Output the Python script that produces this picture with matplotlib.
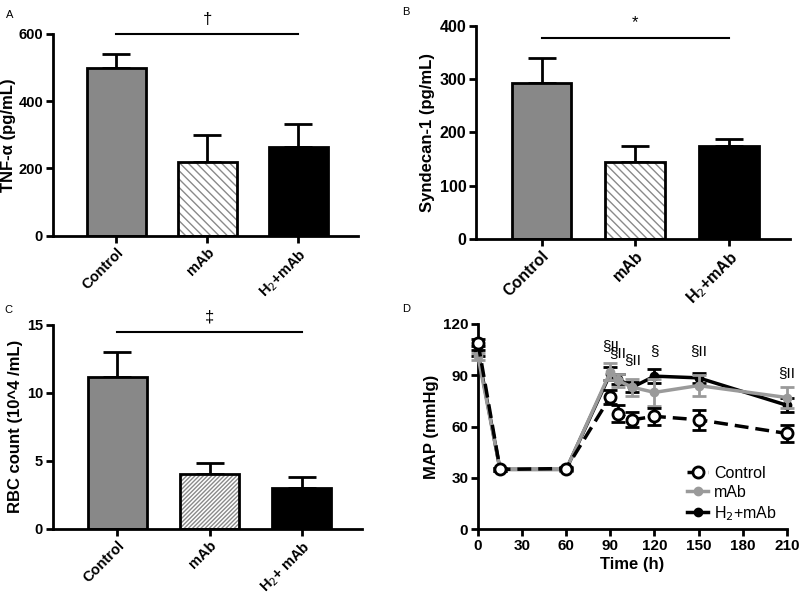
import matplotlib.pyplot as plt

plt.rcParams['font.family'] = ['Liberation Sans', 'DejaVu Sans']

# =========================================
# DATA
# =========================================
groups = ["Control", "mAb", "H$_2$+mAb"]
groups_c = ["Control", "mAb", "H$_2$+ mAb"]

tnf_mean = [500, 220, 265]
tnf_err = [40, 80, 68]

synd_mean = [293, 145, 174]
synd_err = [47, 29, 13]

rbc_mean = [11.2, 4.0, 3.0]
rbc_err = [1.8, 0.85, 0.8]

time_h = [0, 15, 60, 90, 95, 105, 120, 150, 210]
map_control = [109, 35, 35.5, 77.5, 67.5, 64, 66, 64, 56]
map_control_err = [2, 1, 1, 4, 5, 4.5, 5, 6, 5]
map_mab = [101, 35, 35, 92, 87, 83, 80, 84, 77]
map_mab_err = [2, 1, 1, 5, 4, 5, 8, 6, 6]
map_h2 = [103, 35, 35, 91, 88, 83, 89.5, 88.5, 72.5]
map_h2_err = [2, 1, 1, 4, 3, 3, 4, 3, 4]

sig_times = [90, 95, 105, 120, 150, 210]
sig_y = [103, 99, 95, 100, 100, 87]
sig_marks = ["§II", "§II", "§II", "§", "§II", "§II"]

GREY = "#888888"
LGREY = "#9a9a9a"
LW = 2.0


# =========================================
# HELPERS
# =========================================
def style_axes(ax, size=10.5):
    for s in ["top", "right"]:
        ax.spines[s].set_visible(False)
    for s in ["left", "bottom"]:
        ax.spines[s].set_linewidth(LW)
    ax.tick_params(width=LW, length=5, labelsize=size, direction="out", pad=2)
    for lab in ax.get_yticklabels() + ax.get_xticklabels():
        lab.set_fontweight("bold")


def bar_panel(ax, means, errs, labels, hatch, ylim, yticks, ylabel,
              sig_level, sig_text, size=10.5, lsize=12):
    x = list(range(len(means)))
    w = 0.64
    ax.bar(x[0], means[0], w, color=GREY, edgecolor="black", linewidth=LW, zorder=2)
    ax.bar(x[1], means[1], w, color="white", edgecolor="#8a8a8a", hatch=hatch,
           linewidth=0, zorder=2)
    ax.bar(x[1], means[1], w, color="none", edgecolor="black", linewidth=LW, zorder=3)
    ax.bar(x[2], means[2], w, color="black", edgecolor="black", linewidth=LW, zorder=2)
    ax.errorbar(x, means, yerr=[[0] * len(errs), errs], fmt="none",
                ecolor="black", elinewidth=LW, capsize=10, capthick=LW, zorder=1)
    ax.set_xlim(-0.7, 2.65)
    ax.set_ylim(*ylim)
    ax.set_yticks(yticks)
    ax.set_xticks(x)
    ax.set_xticklabels(labels, rotation=45, ha="right", rotation_mode="anchor")
    ax.set_ylabel(ylabel, fontsize=lsize, fontweight="bold", labelpad=3)
    ax.plot([x[0], x[2]], [sig_level, sig_level], color="black", lw=1.5,
            clip_on=False)
    ax.text(1, sig_level + (ylim[1] - ylim[0]) * 0.035, sig_text, ha="center",
            va="bottom", fontsize=12, clip_on=False)
    style_axes(ax, size)


# =========================================
# FIGURE
# =========================================
fig = plt.figure(figsize=(8, 5.94), dpi=100)

ax_a = fig.add_axes([0.066, 0.603, 0.381, 0.340])
ax_b = fig.add_axes([0.595, 0.598, 0.392, 0.358])
ax_c = fig.add_axes([0.066, 0.110, 0.386, 0.343])
ax_d = fig.add_axes([0.5975, 0.109, 0.386, 0.3456])

bar_panel(ax_a, tnf_mean, tnf_err, groups, "\\\\\\\\", (0, 600),
          [0, 200, 400, 600], "TNF-α (pg/mL)", 600, "†", 10.5, 12)
ax_a.yaxis.set_label_coords(-0.12, 0.5)
bar_panel(ax_b, synd_mean, synd_err, groups, "\\\\\\\\", (0, 400),
          [0, 100, 200, 300, 400], "Syndecan-1 (pg/mL)", 378, "*", 11.5, 12)
bar_panel(ax_c, rbc_mean, rbc_err, groups_c, "////////", (0, 15),
          [0, 5, 10, 15], "RBC count (10^4 /mL)", 14.5, "‡", 10.5, 12)

# panel D
ax = ax_d
eb_h2 = ax.errorbar(time_h, map_h2, yerr=map_h2_err, color="black", lw=2.5,
                    marker="o", ms=6, mfc="black", mec="black", capsize=5,
                    capthick=LW, elinewidth=LW, zorder=3, clip_on=False)
eb_mab = ax.errorbar(time_h, map_mab, yerr=map_mab_err, color=LGREY, lw=2.5,
                     marker="o", ms=6, mfc=LGREY, mec=LGREY, capsize=5,
                     capthick=LW, elinewidth=LW, zorder=4, clip_on=False)
eb_ctl = ax.errorbar(time_h, map_control, yerr=map_control_err, color="black",
                     lw=2.5, ls=(0, (4, 2)), marker="o", ms=8, mfc="white",
                     mec="black", mew=2, capsize=5, capthick=LW, elinewidth=LW,
                     zorder=5, clip_on=False)
for t, yv, m in zip(sig_times, sig_y, sig_marks):
    ax.text(t, yv, m, ha="center", va="bottom", fontsize=11)
ax.set_xlim(0, 210)
ax.set_ylim(0, 120)
ax.set_xticks([0, 30, 60, 90, 120, 150, 180, 210])
ax.set_yticks([0, 30, 60, 90, 120])
ax.set_xlabel("Time (h)", fontsize=12, fontweight="bold", labelpad=3)
ax.set_ylabel("MAP (mmHg)", fontsize=12, fontweight="bold", labelpad=3)
ax.legend([eb_ctl.lines[0], eb_mab.lines[0], eb_h2.lines[0]],
          ["Control", "mAb", "H$_2$+mAb"], loc="lower right", frameon=False,
          fontsize=11.5, handlelength=1.3, handletextpad=0.4,
          borderaxespad=0.2, labelspacing=0.25, bbox_to_anchor=(1.0, -0.015))
style_axes(ax, 11)

# panel letters
for lab, (px, py) in zip("ABCD", [(0.008, 0.975), (0.503, 0.98),
                                   (0.006, 0.478), (0.503, 0.48)]):
    fig.text(px, py, lab, fontsize=8, ha="left", va="center")

fig.savefig("out.png", dpi=100)
